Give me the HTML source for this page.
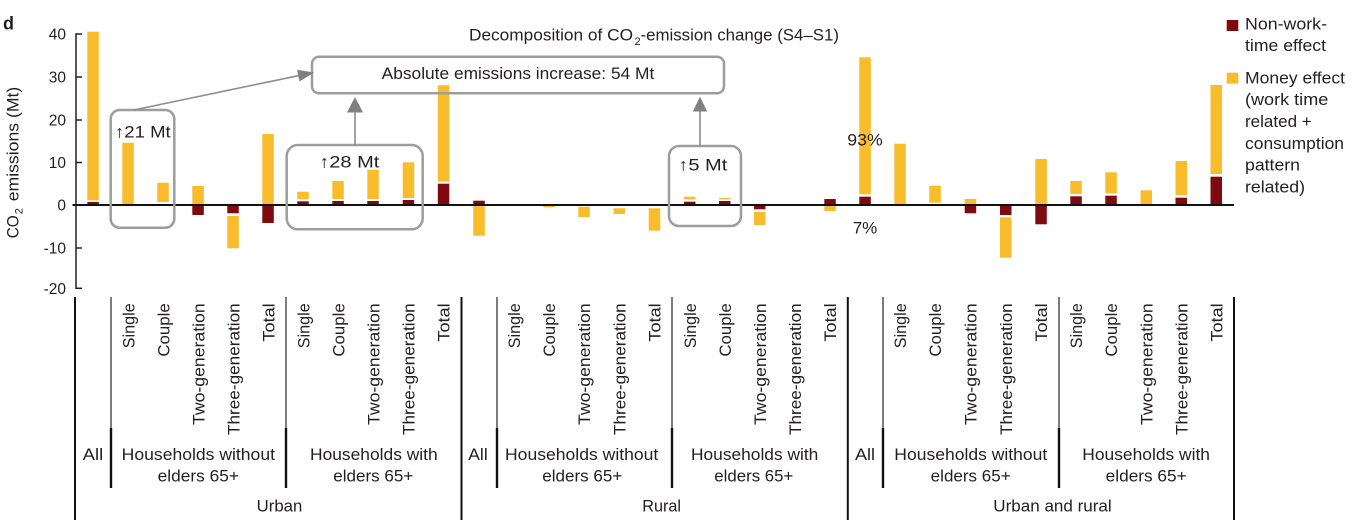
<!DOCTYPE html>
<html><head><meta charset="utf-8"><style>
html,body{margin:0;padding:0;background:#fff;}
svg{display:block;}
text{font-family:"Liberation Sans",Arial,sans-serif;fill:#231f20;}
</style></head><body>
<svg width="1353" height="520" viewBox="0 0 1353 520" xmlns="http://www.w3.org/2000/svg">
<rect width="1353" height="520" fill="#fff"/>
<text x="3" y="29.3" font-size="18" font-weight="bold">d</text>

<!-- y axis -->
<g stroke="#231f20" stroke-width="1.5">
<line x1="76" y1="33.3" x2="76" y2="289"/>
<line x1="76" y1="34" x2="82" y2="34"/>
<line x1="76" y1="77" x2="82" y2="77"/>
<line x1="76" y1="120" x2="82" y2="120"/>
<line x1="76" y1="162.5" x2="82" y2="162.5"/>
<line x1="76" y1="248" x2="82" y2="248"/>
<line x1="76" y1="288.3" x2="82" y2="288.3"/>
</g>
<g font-size="15.5" text-anchor="end">
<text x="66" y="39.3">40</text>
<text x="66" y="82.3">30</text>
<text x="66" y="125.3">20</text>
<text x="66" y="167.8">10</text>
<text x="66" y="210.5">0</text>
<text x="66" y="253.5">-10</text>
<text x="66" y="293.8">-20</text>
</g>
<g transform="translate(18.3,238.3) rotate(-90)" font-size="16.5">
<text x="0" y="0" textLength="23" lengthAdjust="spacingAndGlyphs">CO</text>
<text x="24" y="4" font-size="11">2</text>
<text x="37" y="0" textLength="114.6" lengthAdjust="spacingAndGlyphs">emissions (Mt)</text>
</g>

<!-- title -->
<text x="469" y="40.7" font-size="17" textLength="164" lengthAdjust="spacingAndGlyphs">Decomposition of CO</text>
<text x="634.5" y="44.8" font-size="11">2</text>
<text x="640.5" y="40.7" font-size="17" textLength="198.5" lengthAdjust="spacingAndGlyphs">-emission change (S4–S1)</text>

<!-- bars -->
<g fill="#f9bc2b">
<rect x="87.3" y="31.7" width="11.5" height="168.6"/>
<rect x="122.3" y="142.7" width="11.5" height="62.3"/>
<rect x="157.3" y="182.7" width="11.5" height="19.3"/>
<rect x="192.3" y="186" width="11.5" height="19"/>
<rect x="227.3" y="216" width="11.5" height="32.3"/>
<rect x="262.3" y="134" width="11.5" height="71"/>
<rect x="297.3" y="191.7" width="11.5" height="7.6"/>
<rect x="332.3" y="181" width="11.5" height="18"/>
<rect x="367.3" y="169.7" width="11.5" height="29.3"/>
<rect x="402.7" y="162.3" width="11.5" height="35.7"/>
<rect x="437.8" y="85.3" width="11.5" height="96.4"/>
<rect x="473.3" y="205" width="11.5" height="30.7"/>
<rect x="543.3" y="205" width="11.5" height="2.3"/>
<rect x="578.3" y="206.7" width="11.5" height="10.3"/>
<rect x="613.5" y="208.3" width="11.5" height="5.7"/>
<rect x="648.7" y="208.3" width="11.5" height="22.4"/>
<rect x="684" y="196.7" width="11.5" height="2.6"/>
<rect x="719" y="198" width="11.5" height="1.3"/>
<rect x="754" y="212" width="11.5" height="13"/>
<rect x="824.3" y="205" width="11.5" height="6"/>
<rect x="859.3" y="57.3" width="11.5" height="137"/>
<rect x="894.3" y="143.7" width="11.5" height="61.3"/>
<rect x="929.3" y="185.7" width="11.5" height="17"/>
<rect x="964.7" y="199" width="11.5" height="6"/>
<rect x="1000" y="217.3" width="11.5" height="40.4"/>
<rect x="1035.3" y="159" width="11.5" height="46"/>
<rect x="1070.3" y="181" width="11.5" height="13"/>
<rect x="1105.3" y="172.3" width="11.5" height="21"/>
<rect x="1140.5" y="190.3" width="11.5" height="14.7"/>
<rect x="1175.5" y="161" width="11.5" height="34.3"/>
<rect x="1210.5" y="85" width="11.5" height="89"/>
</g>
<g fill="#7e0a10">
<rect x="87.3" y="202" width="11.5" height="3"/>
<rect x="192.3" y="205" width="11.5" height="10"/>
<rect x="227.3" y="205" width="11.5" height="8.3"/>
<rect x="262.3" y="205" width="11.5" height="18"/>
<rect x="297.3" y="201.3" width="11.5" height="3.7"/>
<rect x="332.3" y="201" width="11.5" height="4"/>
<rect x="367.3" y="201" width="11.5" height="4"/>
<rect x="402.7" y="200" width="11.5" height="5"/>
<rect x="437.8" y="183.7" width="11.5" height="21.3"/>
<rect x="473.3" y="200.7" width="11.5" height="4.3"/>
<rect x="684" y="201.7" width="11.5" height="3.3"/>
<rect x="719" y="201" width="11.5" height="4"/>
<rect x="754" y="205" width="11.5" height="4.3"/>
<rect x="824.3" y="199" width="11.5" height="6"/>
<rect x="859.3" y="196.7" width="11.5" height="8.3"/>
<rect x="964.7" y="205" width="11.5" height="8.3"/>
<rect x="1000" y="205" width="11.5" height="10"/>
<rect x="1035.3" y="205" width="11.5" height="19.3"/>
<rect x="1070.3" y="196.3" width="11.5" height="8.7"/>
<rect x="1105.3" y="195.7" width="11.5" height="9.3"/>
<rect x="1175.5" y="197.7" width="11.5" height="7.3"/>
<rect x="1210.5" y="176.7" width="11.5" height="28.3"/>
</g>
<line x1="72.5" y1="205" x2="1234" y2="205" stroke="#111" stroke-width="2"/>

<!-- annotation boxes -->
<g fill="none" stroke="#9d9d9d" stroke-width="2.5">
<rect x="312" y="56.7" width="412" height="36.6" rx="7"/>
<rect x="110.7" y="110" width="63.6" height="117.7" rx="9"/>
<rect x="286.7" y="145" width="136" height="84.3" rx="11"/>
<rect x="669" y="146" width="72" height="80" rx="10"/>
</g>
<g stroke="#8c8c8c" stroke-width="1.6">
<line x1="134" y1="110" x2="300" y2="75.3"/>
<line x1="355" y1="145" x2="355" y2="110"/>
<line x1="700" y1="146" x2="700" y2="110"/>
</g>
<g fill="#808080">
<polygon points="314,72.5 299.5,81.5 297.1,69.7"/>
<polygon points="355,97 347,112.5 363,112.5"/>
<polygon points="700,96.7 692.8,111.5 707.2,111.5"/>
</g>
<text x="381.7" y="79.2" font-size="17" textLength="272.6" lengthAdjust="spacingAndGlyphs">Absolute emissions increase: 54 Mt</text>
<text x="115" y="137.3" font-size="17" textLength="55.7" lengthAdjust="spacingAndGlyphs">↑21 Mt</text>
<text x="319.3" y="167.7" font-size="17" textLength="60" lengthAdjust="spacingAndGlyphs">↑28 Mt</text>
<text x="678.3" y="170.7" font-size="17" textLength="49" lengthAdjust="spacingAndGlyphs">↑5 Mt</text>
<text x="847.3" y="145.7" font-size="17" textLength="35.4" lengthAdjust="spacingAndGlyphs">93%</text>
<text x="852.7" y="233.3" font-size="17" textLength="24.6" lengthAdjust="spacingAndGlyphs">7%</text>

<!-- legend -->
<rect x="1226.7" y="20" width="11.6" height="11" fill="#7e0a10"/>
<rect x="1226.7" y="72.7" width="11.6" height="11" fill="#f9bc2b"/>
<g font-size="17">
<text x="1245" y="29.3" textLength="82" lengthAdjust="spacingAndGlyphs">Non-work-</text>
<text x="1245" y="51" textLength="81" lengthAdjust="spacingAndGlyphs">time effect</text>
<text x="1245" y="83.3" textLength="100" lengthAdjust="spacingAndGlyphs">Money effect</text>
<text x="1245" y="105.2" textLength="83.3" lengthAdjust="spacingAndGlyphs">(work time</text>
<text x="1245" y="127" textLength="66.7" lengthAdjust="spacingAndGlyphs">related +</text>
<text x="1245" y="148.8" textLength="99" lengthAdjust="spacingAndGlyphs">consumption</text>
<text x="1245" y="170.6" textLength="55" lengthAdjust="spacingAndGlyphs">pattern</text>
<text x="1245" y="192.4" textLength="60" lengthAdjust="spacingAndGlyphs">related)</text>
</g>

<!-- category separators -->
<g stroke="#111" stroke-width="2">
<line x1="75" y1="297" x2="75" y2="520"/>
<line x1="461.5" y1="297" x2="461.5" y2="520"/>
<line x1="847.8" y1="297" x2="847.8" y2="520"/>
<line x1="1234" y1="297" x2="1234" y2="520"/>
</g>
<g stroke="#444" stroke-width="1.4">
<line x1="111" y1="297" x2="111" y2="428"/>
<line x1="286" y1="297" x2="286" y2="428"/>
<line x1="497" y1="297" x2="497" y2="428"/>
<line x1="672" y1="297" x2="672" y2="428"/>
<line x1="883" y1="297" x2="883" y2="428"/>
<line x1="1059" y1="297" x2="1059" y2="428"/>
</g>
<g stroke="#111" stroke-width="2.4">
<line x1="111" y1="428" x2="111" y2="488"/>
<line x1="286" y1="428" x2="286" y2="488"/>
<line x1="497" y1="428" x2="497" y2="488"/>
<line x1="672" y1="428" x2="672" y2="488"/>
<line x1="883" y1="428" x2="883" y2="488"/>
<line x1="1059" y1="428" x2="1059" y2="488"/>
</g>

<!-- rotated category labels -->
<g font-size="16.5" text-anchor="end">
<g transform="translate(134.3,303.3) rotate(-90)"><text textLength="45" lengthAdjust="spacingAndGlyphs">Single</text></g>
<g transform="translate(169.3,303.3) rotate(-90)"><text textLength="53.3" lengthAdjust="spacingAndGlyphs">Couple</text></g>
<g transform="translate(204.3,303.3) rotate(-90)"><text textLength="121.7" lengthAdjust="spacingAndGlyphs">Two-generation</text></g>
<g transform="translate(239.3,303.3) rotate(-90)"><text textLength="131.7" lengthAdjust="spacingAndGlyphs">Three-generation</text></g>
<g transform="translate(274.3,303.3) rotate(-90)"><text textLength="38.3" lengthAdjust="spacingAndGlyphs">Total</text></g>
<g transform="translate(309.3,303.3) rotate(-90)"><text textLength="45" lengthAdjust="spacingAndGlyphs">Single</text></g>
<g transform="translate(344.3,303.3) rotate(-90)"><text textLength="53.3" lengthAdjust="spacingAndGlyphs">Couple</text></g>
<g transform="translate(379.3,303.3) rotate(-90)"><text textLength="121.7" lengthAdjust="spacingAndGlyphs">Two-generation</text></g>
<g transform="translate(414.6,303.3) rotate(-90)"><text textLength="131.7" lengthAdjust="spacingAndGlyphs">Three-generation</text></g>
<g transform="translate(449.7,303.3) rotate(-90)"><text textLength="38.3" lengthAdjust="spacingAndGlyphs">Total</text></g>

<g transform="translate(520.2,303.3) rotate(-90)"><text textLength="45" lengthAdjust="spacingAndGlyphs">Single</text></g>
<g transform="translate(555.2,303.3) rotate(-90)"><text textLength="53.3" lengthAdjust="spacingAndGlyphs">Couple</text></g>
<g transform="translate(590.2,303.3) rotate(-90)"><text textLength="121.7" lengthAdjust="spacingAndGlyphs">Two-generation</text></g>
<g transform="translate(625.4,303.3) rotate(-90)"><text textLength="131.7" lengthAdjust="spacingAndGlyphs">Three-generation</text></g>
<g transform="translate(660.6,303.3) rotate(-90)"><text textLength="38.3" lengthAdjust="spacingAndGlyphs">Total</text></g>
<g transform="translate(695.9,303.3) rotate(-90)"><text textLength="45" lengthAdjust="spacingAndGlyphs">Single</text></g>
<g transform="translate(730.9,303.3) rotate(-90)"><text textLength="53.3" lengthAdjust="spacingAndGlyphs">Couple</text></g>
<g transform="translate(765.9,303.3) rotate(-90)"><text textLength="121.7" lengthAdjust="spacingAndGlyphs">Two-generation</text></g>
<g transform="translate(801.1,303.3) rotate(-90)"><text textLength="131.7" lengthAdjust="spacingAndGlyphs">Three-generation</text></g>
<g transform="translate(836.2,303.3) rotate(-90)"><text textLength="38.3" lengthAdjust="spacingAndGlyphs">Total</text></g>

<g transform="translate(906.2,303.3) rotate(-90)"><text textLength="45" lengthAdjust="spacingAndGlyphs">Single</text></g>
<g transform="translate(941.2,303.3) rotate(-90)"><text textLength="53.3" lengthAdjust="spacingAndGlyphs">Couple</text></g>
<g transform="translate(976.6,303.3) rotate(-90)"><text textLength="121.7" lengthAdjust="spacingAndGlyphs">Two-generation</text></g>
<g transform="translate(1011.9,303.3) rotate(-90)"><text textLength="131.7" lengthAdjust="spacingAndGlyphs">Three-generation</text></g>
<g transform="translate(1047.2,303.3) rotate(-90)"><text textLength="38.3" lengthAdjust="spacingAndGlyphs">Total</text></g>
<g transform="translate(1082.2,303.3) rotate(-90)"><text textLength="45" lengthAdjust="spacingAndGlyphs">Single</text></g>
<g transform="translate(1117.2,303.3) rotate(-90)"><text textLength="53.3" lengthAdjust="spacingAndGlyphs">Couple</text></g>
<g transform="translate(1152.4,303.3) rotate(-90)"><text textLength="121.7" lengthAdjust="spacingAndGlyphs">Two-generation</text></g>
<g transform="translate(1187.4,303.3) rotate(-90)"><text textLength="131.7" lengthAdjust="spacingAndGlyphs">Three-generation</text></g>
<g transform="translate(1222.4,303.3) rotate(-90)"><text textLength="38.3" lengthAdjust="spacingAndGlyphs">Total</text></g>
</g>

<!-- horizontal group labels -->
<g font-size="16.5">
<text x="82.7" y="460" textLength="20.6" lengthAdjust="spacingAndGlyphs">All</text>
<text x="121.7" y="460" textLength="153.3" lengthAdjust="spacingAndGlyphs">Households without</text>
<text x="157.7" y="481.7" textLength="81.3" lengthAdjust="spacingAndGlyphs">elders 65+</text>
<text x="310" y="460" textLength="127.7" lengthAdjust="spacingAndGlyphs">Households with</text>
<text x="333.3" y="481.7" textLength="80" lengthAdjust="spacingAndGlyphs">elders 65+</text>
<text x="256.7" y="511.7" textLength="45.6" lengthAdjust="spacingAndGlyphs">Urban</text>

<text x="468.3" y="460" textLength="19.4" lengthAdjust="spacingAndGlyphs">All</text>
<text x="505" y="460" textLength="153.3" lengthAdjust="spacingAndGlyphs">Households without</text>
<text x="542.3" y="481.7" textLength="80" lengthAdjust="spacingAndGlyphs">elders 65+</text>
<text x="691" y="460" textLength="127.3" lengthAdjust="spacingAndGlyphs">Households with</text>
<text x="714.3" y="481.7" textLength="79" lengthAdjust="spacingAndGlyphs">elders 65+</text>
<text x="642.3" y="511.7" textLength="38.7" lengthAdjust="spacingAndGlyphs">Rural</text>

<text x="855" y="460" textLength="20" lengthAdjust="spacingAndGlyphs">All</text>
<text x="894.3" y="460" textLength="153" lengthAdjust="spacingAndGlyphs">Households without</text>
<text x="930.7" y="481.7" textLength="80" lengthAdjust="spacingAndGlyphs">elders 65+</text>
<text x="1082.3" y="460" textLength="127.7" lengthAdjust="spacingAndGlyphs">Households with</text>
<text x="1105.7" y="481.7" textLength="81" lengthAdjust="spacingAndGlyphs">elders 65+</text>
<text x="993.3" y="511.7" textLength="118.4" lengthAdjust="spacingAndGlyphs">Urban and rural</text>
</g>
</svg>
</body></html>
